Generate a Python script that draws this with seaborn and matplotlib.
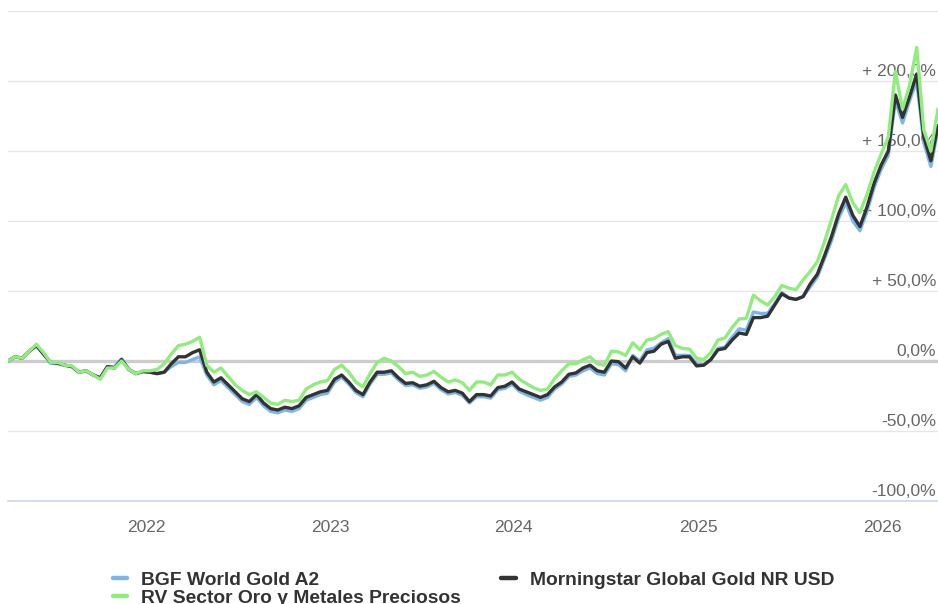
import pandas as pd
import seaborn as sns
import matplotlib.pyplot as plt
from matplotlib.lines import Line2D
from matplotlib.transforms import offset_copy

# --- data (cumulative return, %), ~biweekly ---
start_date = "2021-04-02"
end_date = "2026-04-22"
n_points = 132

bgf_world_gold = [
    0, 3, 2, 7, 11, 5, -1.5, -2, -3, -4, -8, -7, -10, -12, -4, -4, 1.5, -6, -9, -7.5,
    -8, -9, -8, -4, -1, -1, 1, 3, -10, -17, -14, -19, -24, -29, -31, -26, -32, -36, -37, -35,
    -36, -34, -28, -26, -24, -23, -15, -11.5, -16.5, -22.5, -25.5, -16.5, -9.5, -9.5, -8.5, -13.5, -17.5, -17, -19.5, -18.5,
    -16, -20.5, -23.5, -22.5, -24.5, -30, -25.5, -25.5, -26.5, -20.5, -19.5, -16.5, -21.5, -24, -26, -28, -26, -20, -16.5, -11,
    -10, -7, -5, -9, -10, -2, -2.5, -7, 4, 0, 8, 9, 13, 16, 4, 4, 4, -2, -3, 1,
    9, 10, 17, 23, 22, 35, 34, 34, 41, 49, 45, 44, 46, 53, 60, 73, 86, 102, 113, 100,
    93, 107, 124, 137, 147, 186, 170, 186, 200, 156, 139, 166,
]

morningstar_gold = [
    0, 3, 2, 7, 11, 5, -1, -1.5, -3, -4, -8, -7, -10, -12, -4, -5, 1, -6, -9, -7.5,
    -8, -9, -8, -2, 3, 3, 6, 8, -8, -15, -12, -17, -22, -27, -29, -24, -30, -34, -35, -33,
    -34, -32, -26, -24, -22, -21, -13, -10, -15, -21, -24, -15, -8, -8, -7, -12, -16, -15.5, -18, -17,
    -14.5, -19, -22, -21, -23, -29, -24, -24, -25, -19, -18, -15, -20, -22, -24, -26, -24, -18.5, -15, -9.5,
    -8.5, -5, -3, -7, -8, 0, -0.5, -5, 3, -1.5, 6, 7, 12, 14, 2, 3, 3, -3.5, -3, 1,
    8, 9, 15, 20, 19, 31, 31, 32, 40, 48, 45, 44, 46, 55, 62, 75, 89, 105, 117, 104,
    96, 110, 127, 140, 150, 190, 174, 189, 205, 160, 143, 168,
]

rv_oro_metales = [
    0, 3, 2, 7, 12, 6, -1, -1, -3, -3.5, -8, -7, -10, -13, -5, -5, 0, -6, -9, -7,
    -7, -6, -2, 5, 11, 12, 14, 17, -3, -8, -5, -11, -17, -21, -24, -22, -26, -30, -31, -28,
    -29, -28, -20, -17, -15, -14, -6, -3, -8, -15, -18.5, -9, -1, 2, 0, -4, -9, -8, -11, -10,
    -7.5, -11.5, -15, -13.5, -15.5, -21, -15, -15, -17, -10, -10, -8, -13, -16, -19, -21, -20, -12.5, -7, -2,
    -2, 1, 3, -2, -3, 7, 6.5, 4, 13, 8, 15, 16, 19, 21, 11, 9, 8.5, 2, 1, 6,
    15, 16.5, 24, 30, 30.5, 47, 43, 40, 46, 54, 52, 51, 58, 64, 71, 85, 101, 118, 126, 113,
    106, 119, 135, 148, 160, 207, 180, 197, 224, 165, 150, 180,
]

series_names = [
    "BGF World Gold A2",
    "Morningstar Global Gold NR USD",
    "RV Sector Oro y Metales Preciosos",
]
series_colors = ["#7cb5ec", "#333333", "#90ed7d"]

year_ticks = ["2022-01-01", "2023-01-01", "2024-01-01", "2025-01-01", "2026-01-01"]
year_labels = ["2022", "2023", "2024", "2025", "2026"]

grid_values = [-100, -50, 0, 50, 100, 150, 200, 250]
y_label_values = [-100, -50, 0, 50, 100, 150, 200]
y_label_texts = ["-100,0%", "-50,0%", "0,0%", "+ 50,0%", "+ 100,0%", "+ 150,0%", "+ 200,0%"]

# --- build long dataframe ---
dates = pd.date_range(start_date, end_date, periods=n_points)
frames = []
for name, vals in zip(series_names, [bgf_world_gold, morningstar_gold, rv_oro_metales]):
    frames.append(pd.DataFrame({"date": dates, "value": vals, "series": name}))
df = pd.concat(frames, ignore_index=True)

# --- plot ---
sns.set_style("white")
plt.rcParams["font.family"] = ["Liberation Sans", "DejaVu Sans"]

fig = plt.figure(figsize=(9.38, 6.04), dpi=100)
ax = fig.add_axes([8 / 938, 103 / 604, 930 / 938, 490 / 604])

ax.set_yticks(grid_values)
ax.yaxis.grid(True, color="#e6e6e6", linewidth=1)
ax.set_axisbelow(True)
ax.axhline(0, color="#cccccc", linewidth=2.4, zorder=1)

sns.lineplot(data=df, x="date", y="value", hue="series", hue_order=series_names,
             palette=series_colors, linewidth=2.4, legend=False, ax=ax, zorder=3)

ax.set_xlim(pd.Timestamp(start_date), pd.Timestamp(end_date))
ax.set_ylim(-100, 250)
ax.set_xlabel("")
ax.set_ylabel("")

for side in ["top", "left", "right"]:
    ax.spines[side].set_visible(False)
ax.spines["bottom"].set_color("#ccd6eb")
ax.spines["bottom"].set_linewidth(1.2)

ax.set_xticks(pd.to_datetime(year_ticks))
ax.set_xticklabels(year_labels)
ax.tick_params(axis="x", length=7.5, width=1, color="#ccd6eb", colors="#666666",
               labelsize=12.5, pad=6)
ax.tick_params(axis="y", length=0, labelleft=False)

# y labels sit inside the plot on the right, just above each gridline
lab_tf = offset_copy(ax.get_yaxis_transform(), fig=fig, x=-2, y=10, units="dots")
for v, t in zip(y_label_values, y_label_texts):
    ax.text(1.0, v, t, transform=lab_tf, ha="right", va="center",
            fontsize=12.5, color="#666666", zorder=2)

handles = [Line2D([0], [0], color=c, lw=3.2) for c in series_colors]
# order so that ncol=2 fills rows: blue, black / green
order = [0, 2, 1]
fig.legend([handles[i] for i in order], [series_names[i] for i in order],
           loc="upper left", bbox_to_anchor=(103 / 938, 1 - 562 / 604), ncol=2,
           frameon=False, borderpad=0, handlelength=0.75, handletextpad=0.72,
           columnspacing=2.1, labelspacing=0.0,
           prop={"weight": "bold", "size": 13.9})
for txt in fig.legends[0].get_texts():
    txt.set_color("#333333")

plt.savefig("out.png", dpi=100)
plt.close()
